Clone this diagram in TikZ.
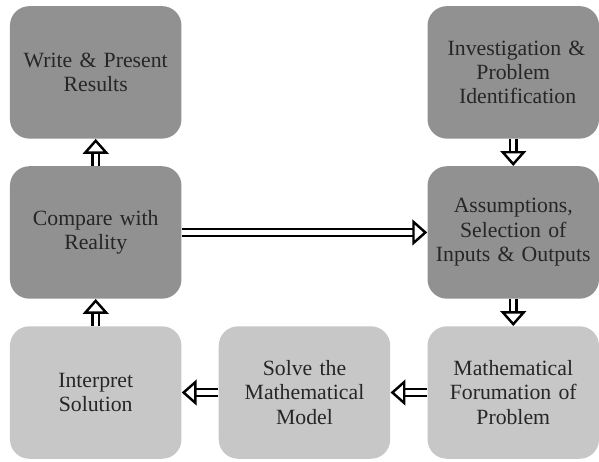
\documentclass[tikz,border=0pt]{standalone}
\usepackage{fontspec}
\setmainfont{Liberation Serif}
\usetikzlibrary{positioning,arrows.meta}

\definecolor{darkbox}{gray}{0.57}
\definecolor{lightbox}{gray}{0.78}
\definecolor{boxtext}{gray}{0.15}

\begin{document}
\begin{tikzpicture}
[node distance = 0.7cm and 0.95cm,
stage/.style={rectangle, rounded corners=0.5cm, draw=none,
minimum width=4.25cm, minimum height=3.425cm, text width=4.2cm,
align=center, text=boxtext, font=\fontsize{16pt}{18pt}\selectfont},
darkstage/.style={stage, fill=darkbox},
lightstage/.style={stage, fill=lightbox},
flow/.style={draw=black, line width=1.6pt, double=white, double distance=3.2pt,
-{Triangle[open, fill=white, length=11pt, width=19pt, line width=1.8pt]}}]

% Draw stages
\node [lightstage] (interp) {Interpret\\Solution};
\node [lightstage, right=of interp] (solve) {Solve the\\Mathematical\\Model};
\node [lightstage, right=of solve] (formul) {Mathematical\\Forumation of\\Problem};
\node [darkstage, above=of formul] (assume) {Assumptions,\\Selection of\\Inputs \& Outputs};
\node [darkstage, above=of assume] (invest) {\hspace*{0.3em}Investigation \&\\Problem\hspace*{1.1em}\\\hspace*{0.4em}Identification};
\node [darkstage, above=of interp] (compare) {Compare with\\Reality};
\node [darkstage, above=of compare] (write) {Write \& Present\\Results};

\path
(invest) edge[flow] (assume)
(assume) edge[flow] (formul)
(formul) edge[flow] (solve)
(solve) edge[flow] (interp)
(interp) edge[flow] (compare)
(compare) edge[flow] (write)
(compare) edge[flow] (assume);

\useasboundingbox (-2.475,-1.775) rectangle (12.5,10.15);
\end{tikzpicture}
\end{document}
